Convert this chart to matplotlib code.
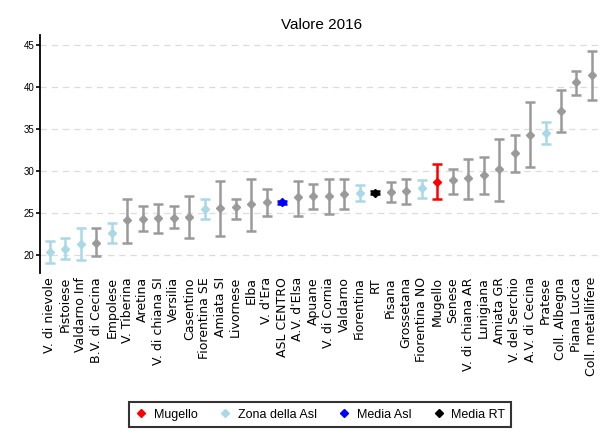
import numpy as np
import matplotlib
matplotlib.use("Agg")
import matplotlib.pyplot as plt
from matplotlib.lines import Line2D

plt.rcParams['font.family'] = ['Liberation Sans', 'DejaVu Sans']

zone = ["V. di nievole", "Pistoiese", "Valdarno Inf", "B.V. di Cecina", "Empolese",
        "V. Tiberina", "Aretina", "V. di chiana SI", "Versilia", "Casentino",
        "Fiorentina SE", "Amiata SI", "Livornese", "Elba", "V. d'Era",
        "ASL CENTRO", "A.V. d'Elsa", "Apuane", "V. di Cornia", "Valdarno",
        "Fiorentina", "RT", "Pisana", "Grossetana", "Fiorentina NO",
        "Mugello", "Senese", "V. di chiana AR", "Lunigiana", "Amiata GR",
        "V. del Serchio", "A.V. di Cecina", "Pratese", "Coll. Albegna",
        "Piana Lucca", "Coll. metallifere"]

valore = [20.4, 20.8, 21.4, 21.5, 22.7, 24.15, 24.35, 24.4, 24.45, 24.55,
          25.5, 25.65, 25.7, 26.05, 26.3, 26.3, 26.9, 27.0, 27.0, 27.3,
          27.45, 27.45, 27.5, 27.6, 28.0, 28.7, 28.9, 29.2, 29.6, 30.2,
          32.1, 34.35, 34.5, 37.2, 40.55, 41.4]
inf = [19.1, 19.6, 19.4, 19.9, 21.5, 21.5, 22.85, 22.6, 23.2, 22.0,
       24.3, 22.25, 24.3, 22.9, 24.65, 26.1, 24.65, 25.45, 24.95, 25.45,
       26.45, 27.25, 26.3, 26.1, 26.85, 26.65, 27.3, 26.7, 27.3, 26.45,
       29.9, 30.55, 33.2, 34.7, 39.1, 38.5]
sup = [21.7, 22.0, 23.2, 23.2, 23.8, 26.7, 25.85, 26.1, 25.85, 27.0,
       26.7, 28.8, 26.7, 29.1, 27.9, 26.5, 28.8, 28.5, 29.1, 29.1,
       28.3, 27.65, 28.7, 29.1, 29.0, 30.9, 30.3, 31.5, 31.7, 33.8,
       34.3, 38.2, 35.8, 39.65, 41.95, 44.3]

# gruppo: 0 altre zone, 1 zone della Asl, 2 Mugello, 3 media Asl, 4 media RT
gruppo = [1, 1, 1, 0, 1, 0, 0, 0, 0, 0,
          1, 0, 0, 0, 0, 3, 0, 0, 0, 0,
          1, 4, 0, 0, 1, 2, 0, 0, 0, 0,
          0, 0, 1, 0, 0, 0]
colori = {0: "#9a9a9a", 1: "#a9d8e6", 2: "#ff0000", 3: "#0000ff", 4: "#000000"}

fig = plt.figure(figsize=(6.12, 4.41), dpi=100)
ax = fig.add_axes([0.065, 0.381, 0.92, 0.54])

x = np.arange(len(zone))
for i in x:
    c = colori[gruppo[i]]
    err = [[valore[i] - inf[i]], [sup[i] - valore[i]]]
    ax.errorbar(x[i], valore[i], yerr=err, fmt="D", color=c, ecolor=c,
                markersize=3.8, elinewidth=1.8, capsize=3.5, capthick=1.8)

ax.set_xlim(-0.65, 35.7)
ax.set_ylim(17.9, 46.2)
ax.set_yticks([20, 25, 30, 35, 40, 45])
ax.tick_params(axis="y", labelsize=7, length=3, width=1.2, pad=1)
ax.set_xticks(x)
ax.set_xticklabels(zone, rotation=90, fontsize=9, family="DejaVu Sans")
ax.tick_params(axis="x", length=0, pad=3)
ax.grid(axis="y", color="#dcdcdc", linestyle=(0, (5, 4)), linewidth=0.9)
ax.set_axisbelow(True)
for s in ["top", "right", "bottom"]:
    ax.spines[s].set_visible(False)
ax.spines["left"].set_linewidth(1.3)
ax.set_title("Valore 2016", fontsize=11, pad=4)

handles = [Line2D([], [], marker="D", linestyle="none", color=colori[k], markersize=4)
           for k in [2, 1, 3, 4]]
leg = fig.legend(handles, ["Mugello", "Zona della Asl", "Media Asl", "Media RT"],
                 loc="center", bbox_to_anchor=(0.523, 0.060), ncol=4, fontsize=9,
                 frameon=True, fancybox=False, edgecolor="black", handlelength=1.0,
                 handletextpad=0.5, columnspacing=1.7, borderpad=0.5)
leg.get_frame().set_linewidth(1.5)

fig.savefig("out.png", dpi=100)
